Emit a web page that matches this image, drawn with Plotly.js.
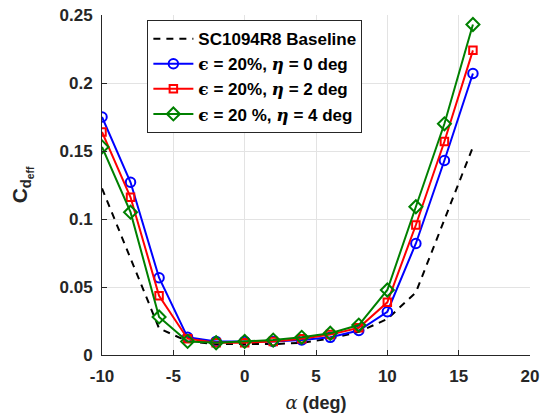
<!DOCTYPE html>
<html>
<head>
<meta charset="utf-8">
<script src="https://cdn.plot.ly/plotly-3.0.1.min.js"></script>
<style>html,body{margin:0;padding:0;background:#fff;}</style>
</head>
<body>
<div id="chart" style="width:547px;height:417px;"></div>
<script>
const alpha = [-10, -8, -6, -4, -2, 0, 2, 4, 6, 8, 10, 12, 14, 16];
const baseline = [0.1225, 0.071, 0.0196, 0.010, 0.008, 0.008, 0.008, 0.009, 0.012, 0.017, 0.0265, 0.046, 0.100, 0.153];
const eta0 = [0.175, 0.127, 0.0568, 0.013, 0.010, 0.010, 0.010, 0.011, 0.013, 0.018, 0.0318, 0.082, 0.143, 0.207];
const eta2 = [0.164, 0.116, 0.0436, 0.012, 0.009, 0.009, 0.010, 0.012, 0.015, 0.020, 0.0387, 0.0956, 0.157, 0.224];
const eta4 = [0.153, 0.105, 0.028, 0.010, 0.009, 0.010, 0.011, 0.013, 0.016, 0.022, 0.0478, 0.109, 0.170, 0.243];
const seriesNames = [
  "SC1094R8 Baseline",
  "<span style='font-family:DejaVu Serif'>ϵ</span> = 20%, <span style='font-family:DejaVu Serif;font-style:italic'>η</span> = 0 deg",
  "<span style='font-family:DejaVu Serif'>ϵ</span> = 20%, <span style='font-family:DejaVu Serif;font-style:italic'>η</span> = 2 deg",
  "<span style='font-family:DejaVu Serif'>ϵ</span> = 20 %, <span style='font-family:DejaVu Serif;font-style:italic'>η</span> = 4 deg"
];
const xTicks = [-10, -5, 0, 5, 10, 15, 20];
const yTicks = [0, 0.05, 0.1, 0.15, 0.2, 0.25];
const yTickText = ["0", "0.05", "0.1", "0.15", "0.2", "0.25"];

const traces = [
  {x: alpha, y: baseline, name: seriesNames[0], mode: 'lines',
   line: {color: 'black', width: 2, dash: '7px,6px'}},
  {x: alpha, y: eta0, name: seriesNames[1], mode: 'lines+markers',
   line: {color: 'rgb(0,0,255)', width: 2},
   marker: {symbol: 'circle-open', size: 9.5, color: 'rgb(0,0,255)', line: {width: 2}}},
  {x: alpha, y: eta2, name: seriesNames[2], mode: 'lines+markers',
   line: {color: 'rgb(255,0,0)', width: 2},
   marker: {symbol: 'square-open', size: 7.5, color: 'rgb(255,0,0)', line: {width: 2}}},
  {x: alpha, y: eta4, name: seriesNames[3], mode: 'lines+markers',
   line: {color: 'rgb(0,128,0)', width: 2},
   marker: {symbol: 'diamond-open', size: 10, color: 'rgb(0,128,0)', line: {width: 2}}}
];

const tickFont = {family: 'Liberation Sans, Arial, sans-serif', size: 17, color: '#262626', weight: 'bold'};

const layout = {
  width: 547, height: 417,
  margin: {l: 101.5, r: 17, t: 15, b: 62},
  paper_bgcolor: 'white', plot_bgcolor: 'white',
  showlegend: true,
  legend: {
    x: 0.106, y: 0.985, xanchor: 'left', yanchor: 'top',
    bgcolor: 'white', bordercolor: '#262626', borderwidth: 1,
    font: {family: 'Liberation Sans, Arial, sans-serif', size: 17, color: 'black', weight: 'bold'},
    itemwidth: 40, tracegroupgap: 0
  },
  xaxis: {
    range: [-10, 20], tickvals: xTicks, ticktext: xTicks.map(String),
    ticks: 'inside', ticklen: 5, tickcolor: '#262626', tickwidth: 1,
    ticklabelstandoff: 6,
    showline: true, linecolor: '#262626', linewidth: 1,
    showgrid: true, gridcolor: '#e3e3e3', gridwidth: 1, zeroline: false,
    tickfont: tickFont,
    title: {text: "<span style='font-family:DejaVu Serif;font-style:italic;font-weight:normal'>α</span> (deg)",
            font: {family: 'Liberation Sans, Arial, sans-serif', size: 18, color: '#262626', weight: 'bold'},
            standoff: 10}
  },
  yaxis: {
    range: [0, 0.25], tickvals: yTicks, ticktext: yTickText,
    ticks: 'inside', ticklen: 5, tickcolor: '#262626', tickwidth: 1,
    ticklabelstandoff: 5,
    showline: true, linecolor: '#262626', linewidth: 1,
    showgrid: true, gridcolor: '#e3e3e3', gridwidth: 1, zeroline: false,
    tickfont: tickFont,
    title: {text: "C<sub>d<sub>eff</sub></sub>",
            font: {family: 'Liberation Sans, Arial, sans-serif', size: 21, color: '#262626', weight: 'bold'},
            standoff: 26}
  }
};

Plotly.newPlot('chart', traces, layout, {displayModeBar: false, staticPlot: true});
</script>
</body>
</html>
